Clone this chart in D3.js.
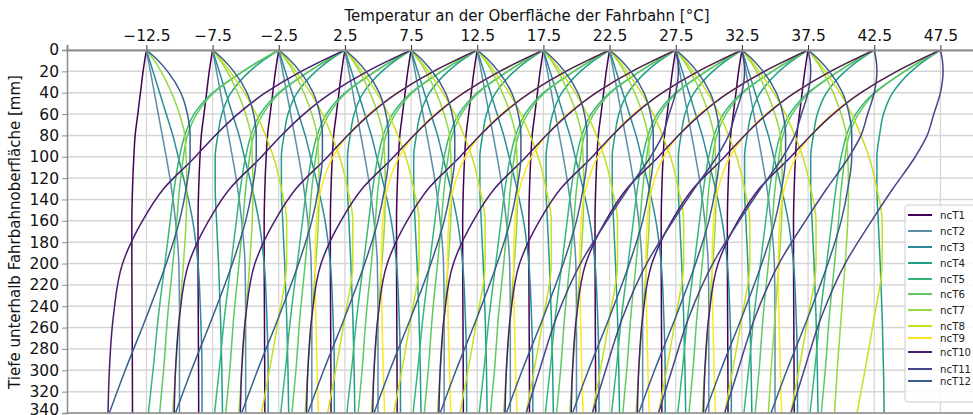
<!DOCTYPE html>
<html>
<head>
<meta charset="utf-8">
<script src="https://cdn.jsdelivr.net/npm/d3@7"></script>
<style>
  body { margin: 0; background: #fff; }
  svg { display: block; }
  svg text { font-family: "DejaVu Sans", sans-serif; }
</style>
</head>
<body>
<svg id="chart" width="973" height="415"></svg>
<script>
const depths = [0, 10, 20, 40, 60, 80, 100, 130, 160, 200, 250, 300, 340];
const surfaceTemps = [-12.5, -7.5, -2.5, 2.5, 7.5, 12.5, 17.5, 22.5, 27.5, 32.5, 37.5, 42.5, 47.5];
const xTicks = surfaceTemps;
const yTicks = d3.range(0, 341, 20);

// temperature offset from the surface value (°C), one value per depth
const ncT1 = [0, -0.13, -0.25, -0.45, -0.65, -0.85, -0.95, -1.05, -1.1, -1.1, -1.08, -1.06, -1.05];
const ncT2 = [0, 0.15, 0.3, 0.6, 0.9, 1.2, 1.5, 1.9, 2.2, 2.45, 2.5, 2.5, 2.5];
const ncT3 = [0, 0.25, 0.5, 1.0, 1.5, 2.0, 2.4, 3.0, 3.5, 3.9, 4.1, 4.2, 4.2];
const ncT4 = [0, -1.2, -2.2, -3.6, -4.3, -4.6, -4.8, -4.8, -4.7, -4.55, -4.4, -4.3, -4.25];
const ncT5 = [0, -1.4, -2.7, -5.0, -6.4, -7.1, -7.5, -7.9, -8.2, -8.6, -9.1, -9.5, -9.85];
const ncT6 = [0, -1.4, -2.7, -4.9, -6.2, -6.9, -7.2, -7.5, -7.7, -8.0, -8.4, -8.7, -9.0];
const ncT7 = [0, 0.6, 1.1, 1.9, 2.5, 2.9, 3.0, 3.05, 3.0, 2.8, 2.5, 2.2, 2.0];
const ncT8 = [0, 0.7, 1.3, 2.4, 3.3, 4.0, 4.6, 5.2, 5.6, 5.6, 5.0, 4.3, 3.7];
const ncT9 = [0, -1.7, -3.3, -6.0, -8.2, -9.8, -10.9, -11.8, -12.15, -12.25, -12.2, -12.1, -12.0];
const ncT10 = [0, -1.7, -3.3, -6.0, -8.1, -9.8, -11.3, -13.7, -15.3, -16.8, -17.5, -17.8, -17.9];
const ncT11 = [0, 0.15, 0.2, 0.0, -0.5, -1.0, -1.9, -3.6, -5.2, -7.2, -9.0, -10.3, -11.3];
const ncT12 = [0, 0.9, 1.6, 2.6, 3.1, 3.3, 3.3, 3.0, 2.5, 1.5, 0.0, -1.6, -2.8];

// surface temperatures for which each profile is drawn
const ncT1Ts = surfaceTemps.slice(0, 11);
const ncT2Ts = surfaceTemps.slice(0, 10);
const ncT3Ts = surfaceTemps.slice(0, 10);
const ncT4Ts = surfaceTemps.slice(2);
const ncT5Ts = surfaceTemps.slice(2);
const ncT6Ts = surfaceTemps.slice(2);
const ncT7Ts = surfaceTemps.slice(0, 11);
const ncT8Ts = surfaceTemps.slice(1, 11);
const ncT9Ts = surfaceTemps.slice(5);
const ncT10Ts = surfaceTemps.slice(3);
const ncT11Ts = surfaceTemps.slice(8);
const ncT12Ts = surfaceTemps.slice(0, 11);

const names = ["ncT1", "ncT2", "ncT3", "ncT4", "ncT5", "ncT6", "ncT7", "ncT8", "ncT9", "ncT10", "ncT11", "ncT12"];
const colors = ["#440154", "#5b8ea6", "#2c8a9a", "#1f9e89", "#35b779", "#5ec962", "#95d840", "#c8e020", "#fde725", "#481c6e", "#46458b", "#3a5e8e"];
const legendY = [215, 231, 247, 263, 279, 294, 310, 326, 338, 352, 369, 381];

const profiles = [ncT1, ncT2, ncT3, ncT4, ncT5, ncT6, ncT7, ncT8, ncT9, ncT10, ncT11, ncT12];
const presence = [ncT1Ts, ncT2Ts, ncT3Ts, ncT4Ts, ncT5Ts, ncT6Ts, ncT7Ts, ncT8Ts, ncT9Ts, ncT10Ts, ncT11Ts, ncT12Ts];

const svg = d3.select("#chart");
const margin = { top: 50, right: 0, bottom: 2, left: 67 };
const width = 973 - margin.left - margin.right;
const height = 415 - margin.top - margin.bottom;

const x = d3.scaleLinear().domain([-18.5, 50]).range([0, width + 0.5]);
const y = d3.scaleLinear().domain([0, 340]).range([0, height]);

const g = svg.append("g").attr("transform", `translate(${margin.left},${margin.top})`);

// grid
g.append("g")
  .selectAll("line")
  .data(yTicks)
  .enter()
  .append("line")
  .attr("x1", 0).attr("x2", width)
  .attr("y1", d => y(d)).attr("y2", d => y(d))
  .attr("stroke", "#d6d6d6").attr("stroke-width", 1.5);
g.append("g")
  .selectAll("line")
  .data(xTicks)
  .enter()
  .append("line")
  .attr("y1", 0).attr("y2", height)
  .attr("x1", d => x(d)).attr("x2", d => x(d))
  .attr("stroke", "#d6d6d6").attr("stroke-width", 1.3);

// curves
svg.append("clipPath").attr("id", "clip")
  .append("rect").attr("width", width).attr("height", height);

const line = d3.line()
  .x(d => x(d[0]))
  .y(d => y(d[1]))
  .curve(d3.curveMonotoneY);

const curveGroup = g.append("g").attr("clip-path", "url(#clip)");
profiles.forEach((prof, k) => {
  presence[k].forEach(ts => {
    const pts = depths.map((dep, i) => [ts + prof[i], dep]);
    curveGroup.append("path")
      .datum(pts)
      .attr("d", line)
      .attr("fill", "none")
      .attr("stroke", colors[k])
      .attr("stroke-width", 1.5);
  });
});

// axes
const xAxis = d3.axisTop(x).tickValues(xTicks).tickSize(5).tickPadding(4)
  .tickFormat(d3.format(".1f"));
const gx = g.append("g").call(xAxis).attr("font-family", null);
gx.select(".domain").attr("stroke", "#8c8c8c").attr("stroke-width", 2);
gx.selectAll(".tick line").attr("stroke", "#333");
gx.selectAll("text").attr("font-size", 15.5).attr("fill", "#111");

const yAxis = d3.axisLeft(y).tickValues(yTicks).tickSize(5).tickPadding(3);
const gy = g.append("g").call(yAxis).attr("font-family", null);
gy.select(".domain").attr("stroke", "#8c8c8c").attr("stroke-width", 1.5);
gy.selectAll(".tick line").attr("stroke", "#8c8c8c");
gy.selectAll("text").attr("font-size", 15.5).attr("fill", "#111");
gy.selectAll(".tick").filter(d => d === 340).select("text").attr("dy", "0.1em");

g.append("line")
  .attr("x1", 0).attr("x2", width)
  .attr("y1", height).attr("y2", height)
  .attr("stroke", "#8c8c8c").attr("stroke-width", 1.5);

svg.append("text")
  .attr("x", 527).attr("y", 21)
  .attr("text-anchor", "middle")
  .attr("font-size", 15)
  .attr("fill", "#111")
  .text("Temperatur an der Oberfläche der Fahrbahn [°C]");

svg.append("text")
  .attr("transform", "translate(20,232) rotate(-90)")
  .attr("text-anchor", "middle")
  .attr("font-size", 15)
  .attr("fill", "#111")
  .text("Tiefe unterhalb Fahrbahnoberfläche [mm]");

// legend
const legend = svg.append("g");
legend.append("rect")
  .attr("x", 905).attr("y", 205)
  .attr("width", 72).attr("height", 197).attr("rx", 3)
  .attr("fill", "#fff").attr("fill-opacity", 0.85)
  .attr("stroke", "#ccc");
names.forEach((n, i) => {
  const ly = legendY[i];
  legend.append("line")
    .attr("x1", 908).attr("x2", 932)
    .attr("y1", ly).attr("y2", ly)
    .attr("stroke", colors[i]).attr("stroke-width", 2);
  legend.append("text")
    .attr("x", 940).attr("y", ly + 4)
    .attr("font-size", 11)
    .attr("fill", "#222")
    .attr("textLength", n.length > 4 ? 31 : 25)
    .attr("lengthAdjust", "spacingAndGlyphs")
    .text(n);
});
</script>
</body>
</html>
